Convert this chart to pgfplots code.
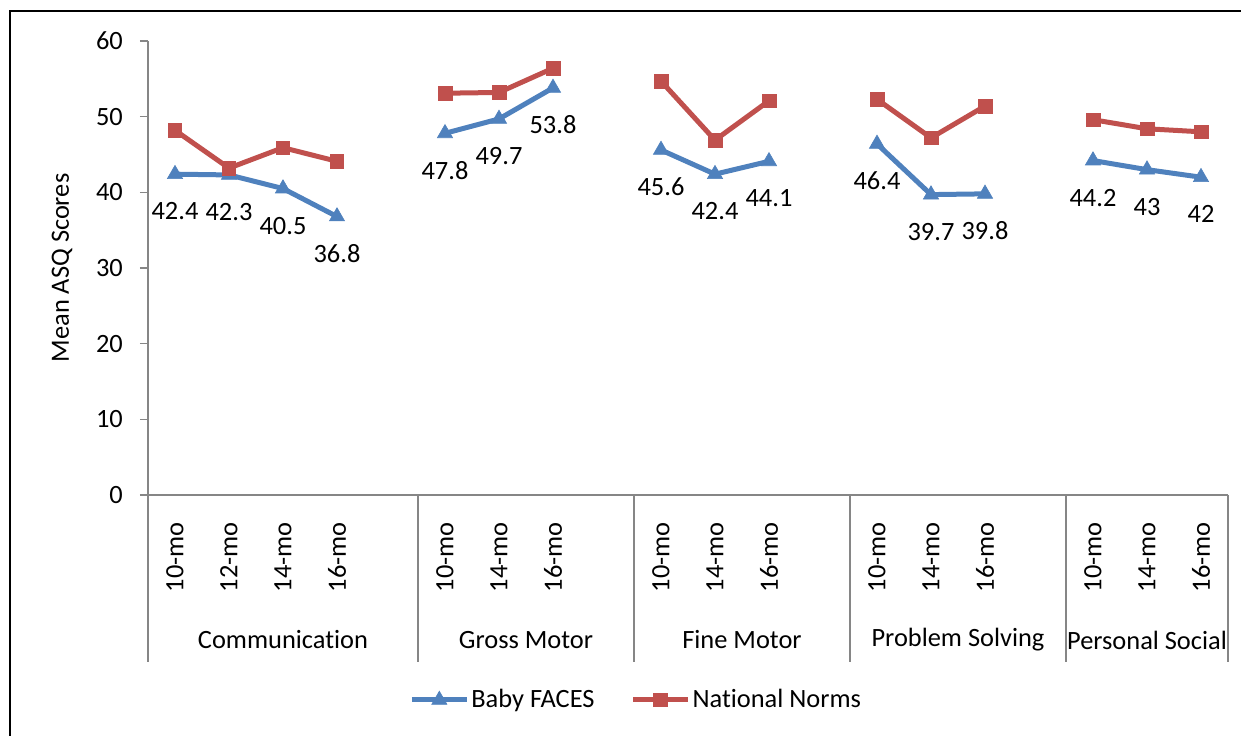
\documentclass[border=0pt]{standalone}
\usepackage{pgfplots}
\pgfplotsset{compat=1.18}
\usepackage{fontspec}
\setmainfont{Carlito}[Ligatures=NoCommon]
\definecolor{faces}{RGB}{79,129,189}
\definecolor{norms}{RGB}{192,80,77}
\definecolor{axgray}{RGB}{134,134,134}
\begin{document}
\fontsize{13.2bp}{15.8bp}\selectfont
\begin{tikzpicture}
\useasboundingbox (-74bp,-120.5bp) rectangle (546.5bp,247.5bp);
% frame of the surrounding figure (left and top edges only visible)
\draw[line width=1bp] (-69bp,-121bp) -- (-69bp,242bp) -- (547bp,242bp);
\begin{axis}[
  at={(0,0)}, anchor=south west,
  scale only axis, width=540bp, height=227bp,
  xmin=-0.5, xmax=19.5, ymin=0, ymax=60,
  axis x line*=bottom, axis y line*=left,
  axis line style={axgray, line width=0.75bp},
  ytick={0,10,...,60},
  ytick align=outside, major tick length=4bp,
  xtick=\empty,
  minor xtick={0,...,19}, minor tick length=2.5bp,
  xtick align=inside,
  extra x ticks={0,1,2,3,5,6,7,9,10,11,13,14,15,17,18,19},
  extra x tick labels={10-mo,12-mo,14-mo,16-mo,10-mo,14-mo,16-mo,10-mo,14-mo,16-mo,10-mo,14-mo,16-mo,10-mo,14-mo,16-mo},
  extra x tick style={major tick length=0pt},
  tick style={axgray, line width=0.75bp},
  xticklabel style={yshift=-13.5bp, rotate=90, anchor=east, inner sep=0pt},
  yticklabel style={xshift=-4bp},
  /pgf/number format/assume math mode=true,
  ylabel={Mean ASQ Scores},
  ylabel style={at={(axis description cs:-0.0796,0.5)}, anchor=center},
  unbounded coords=jump,
  clip=false,
  legend columns=2,
  legend style={at={(rel axis cs:0.452,-0.4515)}, anchor=center, draw=none, fill=none,
    nodes={inner xsep=1bp},
    /tikz/every even column/.append style={column sep=17bp}},
  legend image code/.code={\draw[mark repeat=2,mark phase=2] plot coordinates {(0bp,0bp)(13.75bp,0bp)(27.5bp,0bp)};},
]
\addplot[faces, line width=2.5bp, mark=triangle*, mark size=4.4bp,
  mark options={line width=0.3bp, fill=faces},
  nodes near coords,
  every node near coord/.append style={anchor=center, yshift=-18.5bp, text=black}]
  coordinates {(0,42.4)(1,42.3)(2,40.5)(3,36.8)(4,nan)
    (5,47.8)(6,49.7)(7,53.8)(8,nan)
    (9,45.6)(10,42.4)(11,44.1)(12,nan)
    (13,46.4)(14,39.7)(15,39.8)(16,nan)
    (17,44.2)(18,43)(19,42)};
\addlegendentry{Baby FACES}
\addplot[norms, line width=2.5bp, mark=square*, mark size=3.4bp,
  mark options={line width=0.3bp, fill=norms}]
  coordinates {(0,48.2)(1,43.2)(2,45.9)(3,44.1)(4,nan)
    (5,53.1)(6,53.2)(7,56.4)(8,nan)
    (9,54.7)(10,46.9)(11,52.1)(12,nan)
    (13,52.3)(14,47.2)(15,51.4)(16,nan)
    (17,49.6)(18,48.4)(19,48.0)};
\addlegendentry{National Norms}
% group separators and group names below the month labels
\foreach \b in {-0.5,4.5,8.5,12.5,16.5,19.5}{
  \edef\tmp{\noexpand\draw[axgray, line width=0.75bp] (axis cs:\b,0) -- ([yshift=-83.5bp]axis cs:\b,0);}\tmp
}
\node at ([yshift=-72.5bp]axis cs:2,0) {Communication};
\node at ([yshift=-72.5bp]axis cs:6.5,0) {Gross Motor};
\node at ([yshift=-72.5bp]axis cs:10.5,0) {Fine Motor};
\node at ([yshift=-72.5bp]axis cs:14.5,0) {Problem Solving};
\node at ([yshift=-72.5bp]axis cs:18,0) {Personal Social};
\end{axis}
\end{tikzpicture}
\end{document}
